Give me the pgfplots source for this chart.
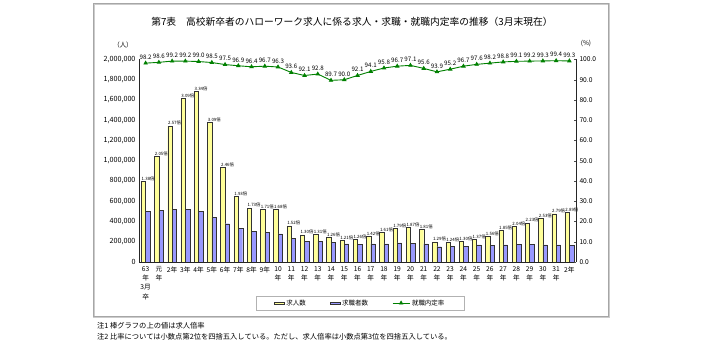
\documentclass[border=0pt]{standalone}
\usepackage{pgfplots}
\pgfplotsset{compat=1.18}
\usepackage{pgfplotstable}
\usepackage{fontspec}
\setmainfont{Noto Sans CJK JP}
\definecolor{jobY}{RGB}{255,255,153}
\definecolor{seekB}{RGB}{153,153,255}
\definecolor{rateG}{RGB}{0,128,0}

\pgfplotstableread{
x jobs seekers ratio rate
0 795000 497000 1.38 98.2
1 1040000 507000 2.05 98.6
2 1343000 520000 2.57 99.2
3 1613000 520000 3.09 99.2
4 1682000 500000 3.34 99.0
5 1380000 441000 3.09 98.5
6 935000 378000 2.46 97.5
7 649000 333000 1.93 96.9
8 533000 306000 1.73 96.4
9 517000 293000 1.71 96.7
10 517000 277000 1.68 96.3
11 356000 234000 1.52 93.6
12 267000 204000 1.30 92.1
13 273000 204000 1.31 92.8
14 240000 191000 1.26 89.7
15 214000 178000 1.21 90.0
16 224000 176000 1.26 92.1
17 254000 178000 1.42 94.1
18 293000 178000 1.61 95.8
19 333000 188000 1.79 96.7
20 343000 185000 1.87 97.1
21 323000 178000 1.81 95.6
22 198000 151000 1.29 93.9
23 195000 158000 1.24 95.2
24 204000 158000 1.30 96.7
25 224000 168000 1.37 97.6
26 254000 162000 1.56 98.2
27 313000 168000 1.85 98.8
28 353000 171000 2.04 99.1
29 385000 171000 2.23 99.2
30 432000 168000 2.53 99.3
31 477000 168000 2.79 99.4
32 487000 165000 2.89 99.3
}\data

\pgfplotsset{
  common/.style={
    at={(139bp,84bp)}, anchor=south west, scale only axis,
    width=437bp, height=202.5bp,
    xmin=-0.5, xmax=32.5,
    /pgf/number format/assume math mode=true,
  }
}

\begin{document}
\begin{tikzpicture}
\useasboundingbox (0bp,0bp) rectangle (712bp,346bp);
\fill[white] (0bp,0bp) rectangle (712bp,346bp);
\draw[gray!40, line width=1.2bp] (94bp,29bp) rectangle (609bp,342bp);
\draw[gray!70, line width=0.5bp] (93bp,30bp) rectangle (608bp,343bp);
\node[font=\fontsize{9.8}{11}\selectfont] at (352bp,324bp) {第7表　高校新卒者のハローワーク求人に係る求人・求職・就職内定率の推移（3月末現在）};
\node[font=\fontsize{6.5}{7}\selectfont] at (123bp,301bp) {（人）};
\node[font=\fontsize{6.5}{7}\selectfont] at (586bp,303bp) {(\%)};
\node[anchor=west, font=\fontsize{7.3}{8}\selectfont, inner sep=0pt] at (97bp,20bp) {注1 棒グラフの上の値は求人倍率};
\node[anchor=west, font=\fontsize{7.3}{8}\selectfont, inner sep=0pt] at (97bp,9bp) {注2 比率については小数点第2位を四捨五入している。ただし、求人倍率は小数点第3位を四捨五入している。};

\begin{axis}[common,
  ymin=0, ymax=2000000,
  axis x line*=bottom, axis y line*=left,
  axis line style={black!85, line width=0.6bp},
  ytick={0,200000,...,2000000},
  scaled y ticks=false,
  yticklabel style={font=\fontsize{7.2}{8}\selectfont, /pgf/number format/.cd, fixed, 1000 sep={,}},
  ytick style={draw=none},
  xtick={0,...,32},
  xtick style={draw=none},
  xticklabels={{63\\年\\3月\\卒},{元\\年},2年,3年,4年,5年,6年,7年,8年,9年,{10\\年},{11\\年},{12\\年},{13\\年},{14\\年},{15\\年},{16\\年},{17\\年},{18\\年},{19\\年},{20\\年},{21\\年},{22\\年},{23\\年},{24\\年},{25\\年},{26\\年},{27\\年},{28\\年},{29\\年},{30\\年},{31\\年},2年},
  xticklabel style={font=\fontsize{6.7}{9.3}\selectfont, align=center, anchor=north, yshift=-1bp},
]
\addplot[ybar, bar width=4.4bp, bar shift=-2.2bp, fill=jobY, draw=black!80, line width=0.4bp,
  point meta=explicit symbolic,
  nodes near coords={\pgfplotspointmeta 倍},
  every node near coord/.append style={black, font=\fontsize{4.4}{5}\selectfont, xshift=2.5bp, yshift=-0.5bp, inner sep=1pt}]
  table[x=x, y=jobs, meta=ratio] {\data};
\addplot[ybar, bar width=4.4bp, bar shift=2.2bp, fill=seekB, draw=black!80, line width=0.4bp]
  table[x=x, y=seekers] {\data};
\end{axis}

\begin{axis}[common,
  ymin=0, ymax=100,
  axis x line=none, axis y line*=right,
  axis line style={black!85, line width=0.6bp},
  ytick={0,10,...,100},
  yticklabel style={font=\fontsize{6.7}{7}\selectfont, /pgf/number format/.cd, fixed, fixed zerofill, precision=1},
  ytick style={black!70, line width=0.4bp},
  tick align=inside, major tick length=2bp,
  legend style={at={(0.506,-0.203)}, anchor=center, legend columns=3,
    draw=gray!60, line width=0.5bp, font=\fontsize{6.5}{7}\selectfont,
    inner xsep=18bp, inner ysep=1.5bp,
    /tikz/every even column/.append style={column sep=22bp}},
]
\addlegendimage{legend image code/.code={\draw[fill=jobY, draw=black!80, line width=0.5bp] (0bp,-1.3bp) rectangle (10bp,1.3bp);}}
\addlegendimage{legend image code/.code={\draw[fill=seekB, draw=black!80, line width=0.5bp] (0bp,-1.3bp) rectangle (10bp,1.3bp);}}
\addplot[rateG, line width=0.9bp, mark=triangle*, mark size=1.8bp, mark options={fill=rateG},
  nodes near coords, point meta=y,
  every node near coord/.append style={black, font=\fontsize{6.2}{7}\selectfont, inner sep=1pt, yshift=2.2bp,
    /pgf/number format/fixed, /pgf/number format/fixed zerofill, /pgf/number format/precision=1}]
  table[x=x, y=rate] {\data};
\legend{求人数,求職者数,就職内定率}
\end{axis}
\end{tikzpicture}
\end{document}
